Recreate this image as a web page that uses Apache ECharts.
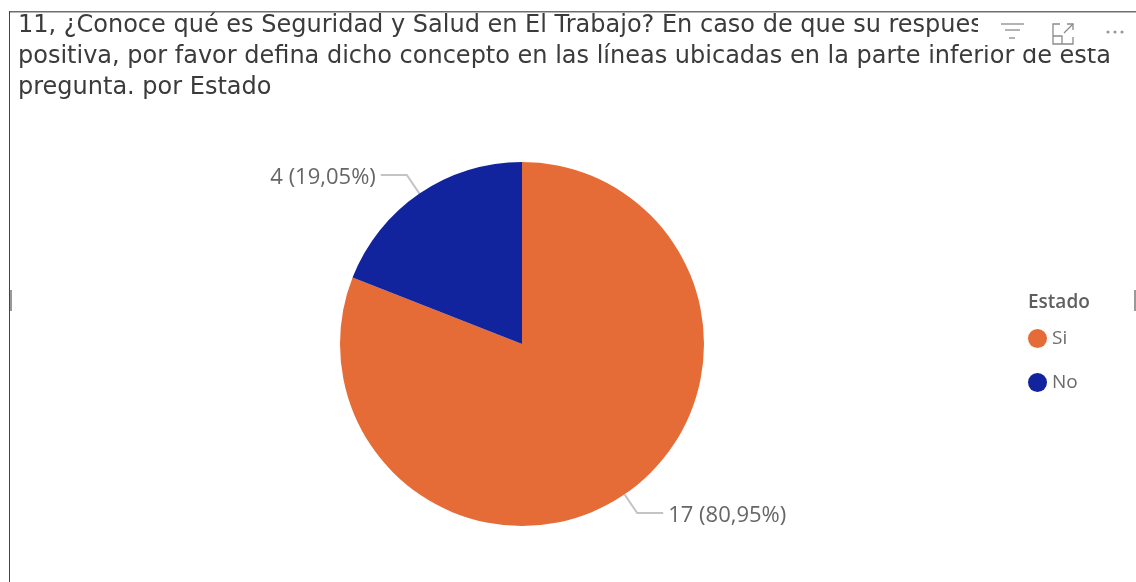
<!DOCTYPE html>
<html><head><meta charset="utf-8">
<style>html,body{margin:0;padding:0;background:#fff}#c{width:1136px;height:582px}</style>
<script src="https://cdn.jsdelivr.net/npm/echarts@6/dist/echarts.min.js"></script>
</head><body><div id="c"></div>
<script>
const titleLines = [
  "11, ¿Conoce qué es Seguridad y Salud en El Trabajo? En caso de que su respuesta sea",
  "positiva, por favor defina dicho concepto en las líneas ubicadas en la parte inferior de esta",
  "pregunta. por Estado"
];
const categories = ["Si", "No"];
const values = [17, 4];
const colors = ["#E66C37", "#12239E"];
const legendTitle = "Estado";

const chart = echarts.init(document.getElementById('c'), null, {renderer:'canvas'});
chart.setOption({
  animation:false,
  title:[
    {text:titleLines.join("\n"), left:13, top:5, textStyle:{fontFamily:'DejaVu Sans',fontSize:24,fontWeight:400,color:'#3b3b3b',lineHeight:31}},
    {text:legendTitle, left:1023, top:288, textStyle:{fontFamily:'Open Sans',fontSize:19,fontWeight:600,color:'#5f5f5f'}}
  ],
  legend:{orient:'vertical',left:1028,top:329,padding:0,icon:'circle',itemWidth:19,itemHeight:19,itemGap:25,
    data:categories,selectedMode:false,
    textStyle:{fontFamily:'Open Sans',fontSize:19,color:'#6b6b6b'}},
  graphic:[
    {type:'rect',z:100,shape:{x:978,y:12,width:152,height:33},style:{fill:'#fff'}},
    {type:'rect',z:100,shape:{x:1010,y:45,width:110,height:3},style:{fill:'#fff'}},
    {type:'rect',z:101,shape:{x:9,y:11,width:1127,height:1.5},style:{fill:'#6e6e6e'}},
    {type:'rect',z:101,shape:{x:9,y:11,width:1,height:571},style:{fill:'#444'}},
    {type:'rect',z:101,shape:{x:10,y:290,width:2,height:21},style:{fill:'#999'}},
    {type:'rect',z:101,shape:{x:1134,y:290,width:2,height:21},style:{fill:'#999'}},
    {type:'polyline',z:102,shape:{points:[[1001,24],[1024,24]]},style:{stroke:'#8a8a8a',lineWidth:1.3}},
    {type:'polyline',z:102,shape:{points:[[1005,30],[1020,30]]},style:{stroke:'#8a8a8a',lineWidth:1.3}},
    {type:'polyline',z:102,shape:{points:[[1009,38],[1015,38]]},style:{stroke:'#8a8a8a',lineWidth:1.3}},
    {type:'polyline',z:102,shape:{points:[[1060,24],[1053,24],[1053,44],[1073,44],[1073,37]]},style:{stroke:'#8a8a8a',lineWidth:1.3,fill:null}},
    {type:'polyline',z:102,shape:{points:[[1053,36],[1062,36],[1062,44]]},style:{stroke:'#8a8a8a',lineWidth:1.3,fill:null}},
    {type:'polyline',z:102,shape:{points:[[1064,33],[1073,24]]},style:{stroke:'#8a8a8a',lineWidth:1.3}},
    {type:'polyline',z:102,shape:{points:[[1067,24],[1073,24],[1073,30]]},style:{stroke:'#8a8a8a',lineWidth:1.3,fill:null}},
    {type:'circle',z:102,shape:{cx:1108,cy:32,r:1.6},style:{fill:'#999'}},
    {type:'circle',z:102,shape:{cx:1115,cy:32,r:1.6},style:{fill:'#999'}},
    {type:'circle',z:102,shape:{cx:1122,cy:32,r:1.6},style:{fill:'#999'}}
  ],
  series:[{
    type:'pie',center:[522,344],radius:[0,182],startAngle:90,clockwise:true,
    data:categories.map((n,i)=>({name:n,value:values[i],itemStyle:{color:colors[i]}})),
    label:{show:true,
      formatter:p=>"{t|"+p.value+" ("+p.percent.toFixed(2).replace('.',',')+"%)}",
      rich:{t:{fontFamily:'Open Sans',fontSize:22,color:'#666',padding:[6,0,0,0]}}},
    labelLine:{show:true,length:22.5,length2:26,lineStyle:{color:'#c4c4c4',width:2}},
    emphasis:{disabled:true}
  }]
});
</script></body></html>
